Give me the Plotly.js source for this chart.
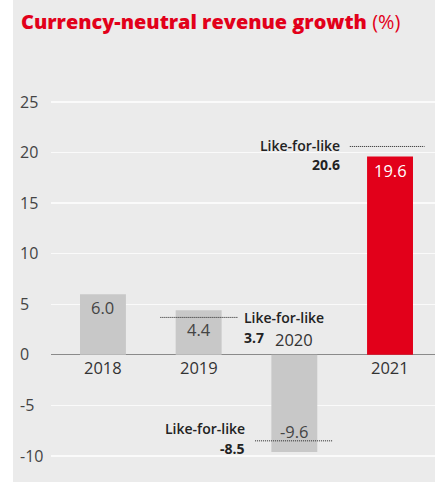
<!DOCTYPE html>
<html>
<head>
<meta charset="utf-8">
<script src="https://cdn.plot.ly/plotly-3.0.1.min.js"></script>
<style>
html,body{margin:0;padding:0;}
body{background:linear-gradient(to right,#ffffff 0,#ffffff 13px,#ebebeb 13px,#ebebeb 100%);width:435px;height:482px;overflow:hidden;}
#chart{width:435px;height:482px;}
</style>
</head>
<body>
<div id="chart"></div>
<script>
// Data
var years = ['2018', '2019', '2020', '2021'];
var growth = [6.0, 4.4, -9.6, 19.6];
var barColors = ['#c8c8c8', '#c8c8c8', '#c8c8c8', '#e2001a'];
var lflYears = ['2019', '2020', '2021'];
var lflValues = [3.7, -8.5, 20.6];
var yTicks = [-10, -5, 0, 5, 10, 15, 20, 25];

var idx = function (y) { return years.indexOf(y); };

var trace = {
  type: 'bar',
  x: years.map(function (y, i) { return i; }),
  y: growth,
  width: 0.48,
  marker: { color: barColors, line: { width: 0 } },
  hoverinfo: 'skip'
};

var annotations = [];
// value labels inside bars
var valShift = [-13, -19, 20, -14];
growth.forEach(function (v, i) {
  annotations.push({
    x: i, y: v, xref: 'x', yref: 'y', text: v.toFixed(1), showarrow: false,
    yshift: valShift[i], yanchor: 'middle', xanchor: 'center',
    font: { family: 'Open Sans', size: 16.5, color: i === 3 ? '#ffffff' : '#444444' }
  });
});
// category labels
growth.forEach(function (v, i) {
  annotations.push({
    x: i, y: 0, xref: 'x', yref: 'y', text: years[i], showarrow: false,
    yshift: v < 0 ? 15 : -13, yanchor: 'middle', xanchor: 'center',
    font: { family: 'Open Sans', size: 16.5, color: '#333333' }
  });
});

// like-for-like markers
var lflStyle = {
  '2019': { x0: -0.40, x1: 0.41, tx: 0.452, anchor: 'left', s1: 0, s2: -20 },
  '2020': { x0: -0.41, x1: 0.40, tx: -0.495, anchor: 'right', s1: 12, s2: -8 },
  '2021': { x0: -0.42, x1: 0.36, tx: -0.503, anchor: 'right', s1: 1, s2: -18 }
};
var shapes = [];
lflYears.forEach(function (yr, k) {
  var i = idx(yr), st = lflStyle[yr], v = lflValues[k];
  shapes.push({
    type: 'line', xref: 'x', yref: 'y', x0: i + st.x0, x1: i + st.x1, y0: v, y1: v,
    line: { color: '#222222', width: 1, dash: '1px,1px' }
  });
  annotations.push({
    x: i + st.tx, y: v, xref: 'x', yref: 'y', text: 'Like-for-like', showarrow: false,
    xanchor: st.anchor, yanchor: 'middle', yshift: st.s1,
    font: { family: 'Open Sans', size: 14, color: '#222222', weight: 600 }
  });
  annotations.push({
    x: i + st.tx, y: v, xref: 'x', yref: 'y', text: v.toFixed(1), showarrow: false,
    xanchor: st.anchor, yanchor: 'middle', yshift: st.s2,
    font: { family: 'Open Sans', size: 14, color: '#222222', weight: 700 }
  });
});

var layout = {
  width: 435, height: 482,
  margin: { l: 13, r: 0, t: 60, b: 0, pad: 0 },
  paper_bgcolor: 'rgba(0,0,0,0)',
  plot_bgcolor: 'rgba(0,0,0,0)',
  showlegend: false,
  title: {
    text: '<span style="font-weight:800">Currency-neutral revenue growth</span> <span style="font-weight:400">(%)</span>',
    x: 21 / 435, xref: 'container', xanchor: 'left',
    y: 1 - 22 / 482, yref: 'container', yanchor: 'middle',
    font: { family: 'Open Sans', size: 19.9, color: '#e2001a' }
  },
  xaxis: {
    domain: [38 / 422, 1],
    range: [-0.543, 3.47],
    showticklabels: false, showgrid: false, zeroline: false, showline: false, ticks: '',
    fixedrange: true
  },
  yaxis: {
    range: [-12.57, 29.15],
    tickvals: yTicks,
    ticktext: yTicks.map(String),
    anchor: 'free', position: 0, side: 'right',
    showgrid: true, gridcolor: '#fafafa', gridwidth: 1.5,
    zeroline: true, zerolinecolor: '#8a8a8a', zerolinewidth: 1,
    showline: false, ticks: '',
    ticklabelstandoff: 6,
    tickfont: { family: 'Open Sans', size: 16, color: '#444444' },
    fixedrange: true
  },
  shapes: shapes,
  annotations: annotations
};

Plotly.newPlot('chart', [trace], layout, { displayModeBar: false, staticPlot: true });
</script>
</body>
</html>
